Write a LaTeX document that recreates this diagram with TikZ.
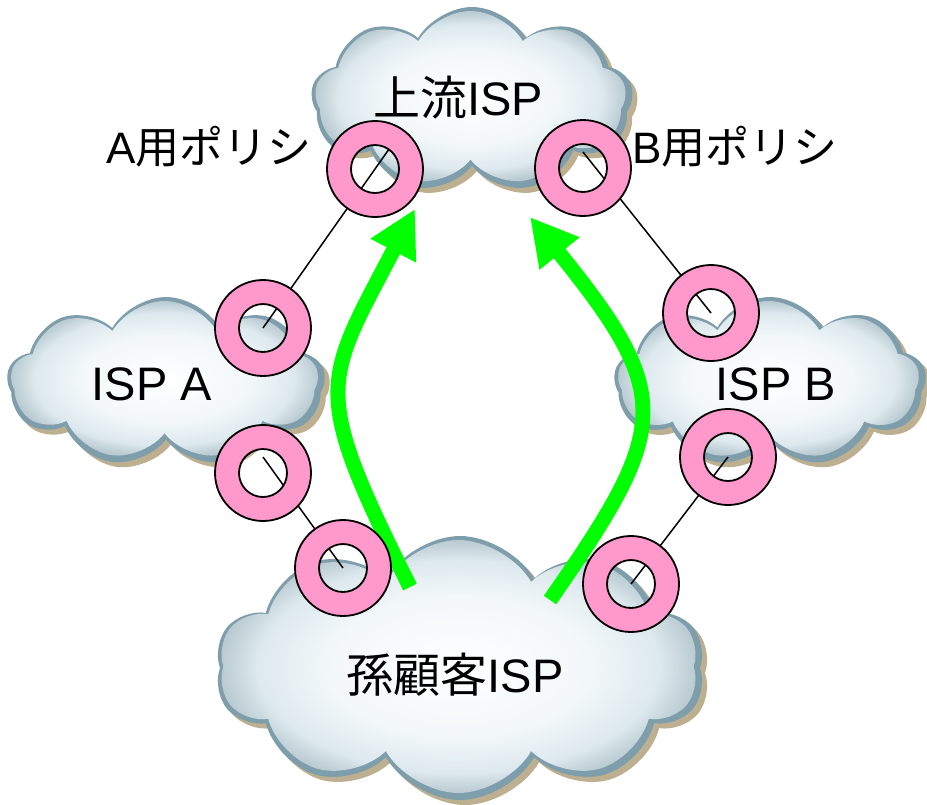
\documentclass[tikz,border=0pt]{standalone}
\usepackage{fontspec}
\setmainfont{Liberation Sans}
\newfontfamily\jfont{Noto Sans CJK JP}
\usetikzlibrary{shapes.symbols,arrows.meta,calc}

\definecolor{ringpink}{HTML}{FF99CC}
\definecolor{flowgreen}{HTML}{00FF00}
\definecolor{cloudrim}{HTML}{7F9EAB}
\definecolor{cloudmid}{HTML}{DDE9EE}
\definecolor{cloudlight}{HTML}{F2F7F9}
\definecolor{cloudshadow}{HTML}{BDB090}

% soft bluish body of a cloud: white centre, pale blue towards the puffs
\pgfdeclareradialshading{cloudbody}{\pgfpoint{0bp}{0bp}}{%
  color(0bp)=(white); color(14bp)=(cloudlight); color(21bp)=(cloudmid);
  color(25bp)=(cloudrim!55); color(50bp)=(cloudrim!55)}

\tikzset{
  puffy/.style={cloud, cloud puffs=9, cloud puff arc=120,
    cloud ignores aspect, inner sep=0pt, outer sep=0pt},
  lbl/.style={inner sep=0pt, anchor=base, font=\fontsize{47}{56}\selectfont},
  pol/.style={inner sep=0pt, anchor=base, font=\fontsize{44}{52}\selectfont},
  link/.style={line width=1.5pt, black},
  flow/.style={line width=15pt, flowgreen,
    -{Triangle[length=47pt, width=48pt]}},
  ringslot/.style={circle, minimum size=96pt, inner sep=0pt}
}

% a cloud: shadow, rim and shaded body
\newcommand\ispcloud[6]{%
  \node[puffy, cloud puffs=#6, fill=cloudshadow, minimum width=#4pt,
    minimum height=#5pt] (#1-s) at (#2+5,#3+5) {};
  \node[puffy, cloud puffs=#6, fill=cloudrim, minimum width=#4pt,
    minimum height=#5pt] (#1) at (#2,#3) {};
  \node[puffy, cloud puffs=#6, shading=cloudbody, minimum width=#4pt-11pt,
    minimum height=#5pt-11pt] (#1-b) at (#2-1.5,#3-1.5) {};
}

% a pink ring with an open hole
\newcommand\pinkring[1]{%
  \fill[ringpink, even odd rule] (#1) circle (48pt) (#1) circle (24pt);
  \draw[line width=1.8pt] (#1) circle (48pt) (#1) circle (24pt);
}

\begin{document}
\begin{tikzpicture}[x=1pt, y=-1pt]
\useasboundingbox (0,0) rectangle (927,804);

% clouds
\ispcloud{up}{472}{100}{322}{186}{9}
\ispcloud{ispa}{166}{382}{318}{170}{9}
\ispcloud{ispb}{770}{382}{312}{170}{9}
\ispcloud{cust}{460}{668}{490}{264}{10}

% ring positions
\node[ringslot] (r1) at (375,169) {};
\node[ringslot] (r2) at (583,168) {};
\node[ringslot] (r3) at (263,328) {};
\node[ringslot] (r4) at (263,473) {};
\node[ringslot] (r5) at (343,568) {};
\node[ringslot] (r6) at (711,313) {};
\node[ringslot] (r7) at (728,457) {};
\node[ringslot] (r8) at (631,584) {};

% links between rings
\draw[link] (r3.center) -- ($(r3.center)!1.13!(r1.center)$);
\draw[link] (r5.center) -- ($(r4.center)+(0,-16)$);
\draw[link] ($(r2.center)+(0,-16)$) -- (r6.center);
\draw[link] (r7.center) -- (r8.center);

% route arrows from the customer ISP up to the upstream ISP
\coordinate (fa0) at (410,587);
\coordinate (fa1) at (415,209);
\coordinate (fb0) at (550,600);
\coordinate (fb1) at (530,217);
\draw[flow] (fa0) .. controls (310,387) and (323,385) .. (fa1);
\draw[flow] (fb0) .. controls (670,428) and (675,396) .. (fb1);

% rings
\foreach \r in {r1,r2,r3,r4,r5,r6,r7,r8} {\pinkring{\r.center}}

% labels
\node[lbl] (tup) at (458,115) {{\jfont 上流}ISP};
\node[lbl] (ta) at (152,400) {ISP A};
\node[lbl] (tb) at (776,400) {ISP B};
\node[lbl] (tc) at (455,692) {{\jfont 孫顧客}ISP};
\node[pol] (pa) at (209,163) {A{\jfont 用ポリシ}};
\node[pol] (pb) at (735,163) {B{\jfont 用ポリシ}};
\end{tikzpicture}
\end{document}
